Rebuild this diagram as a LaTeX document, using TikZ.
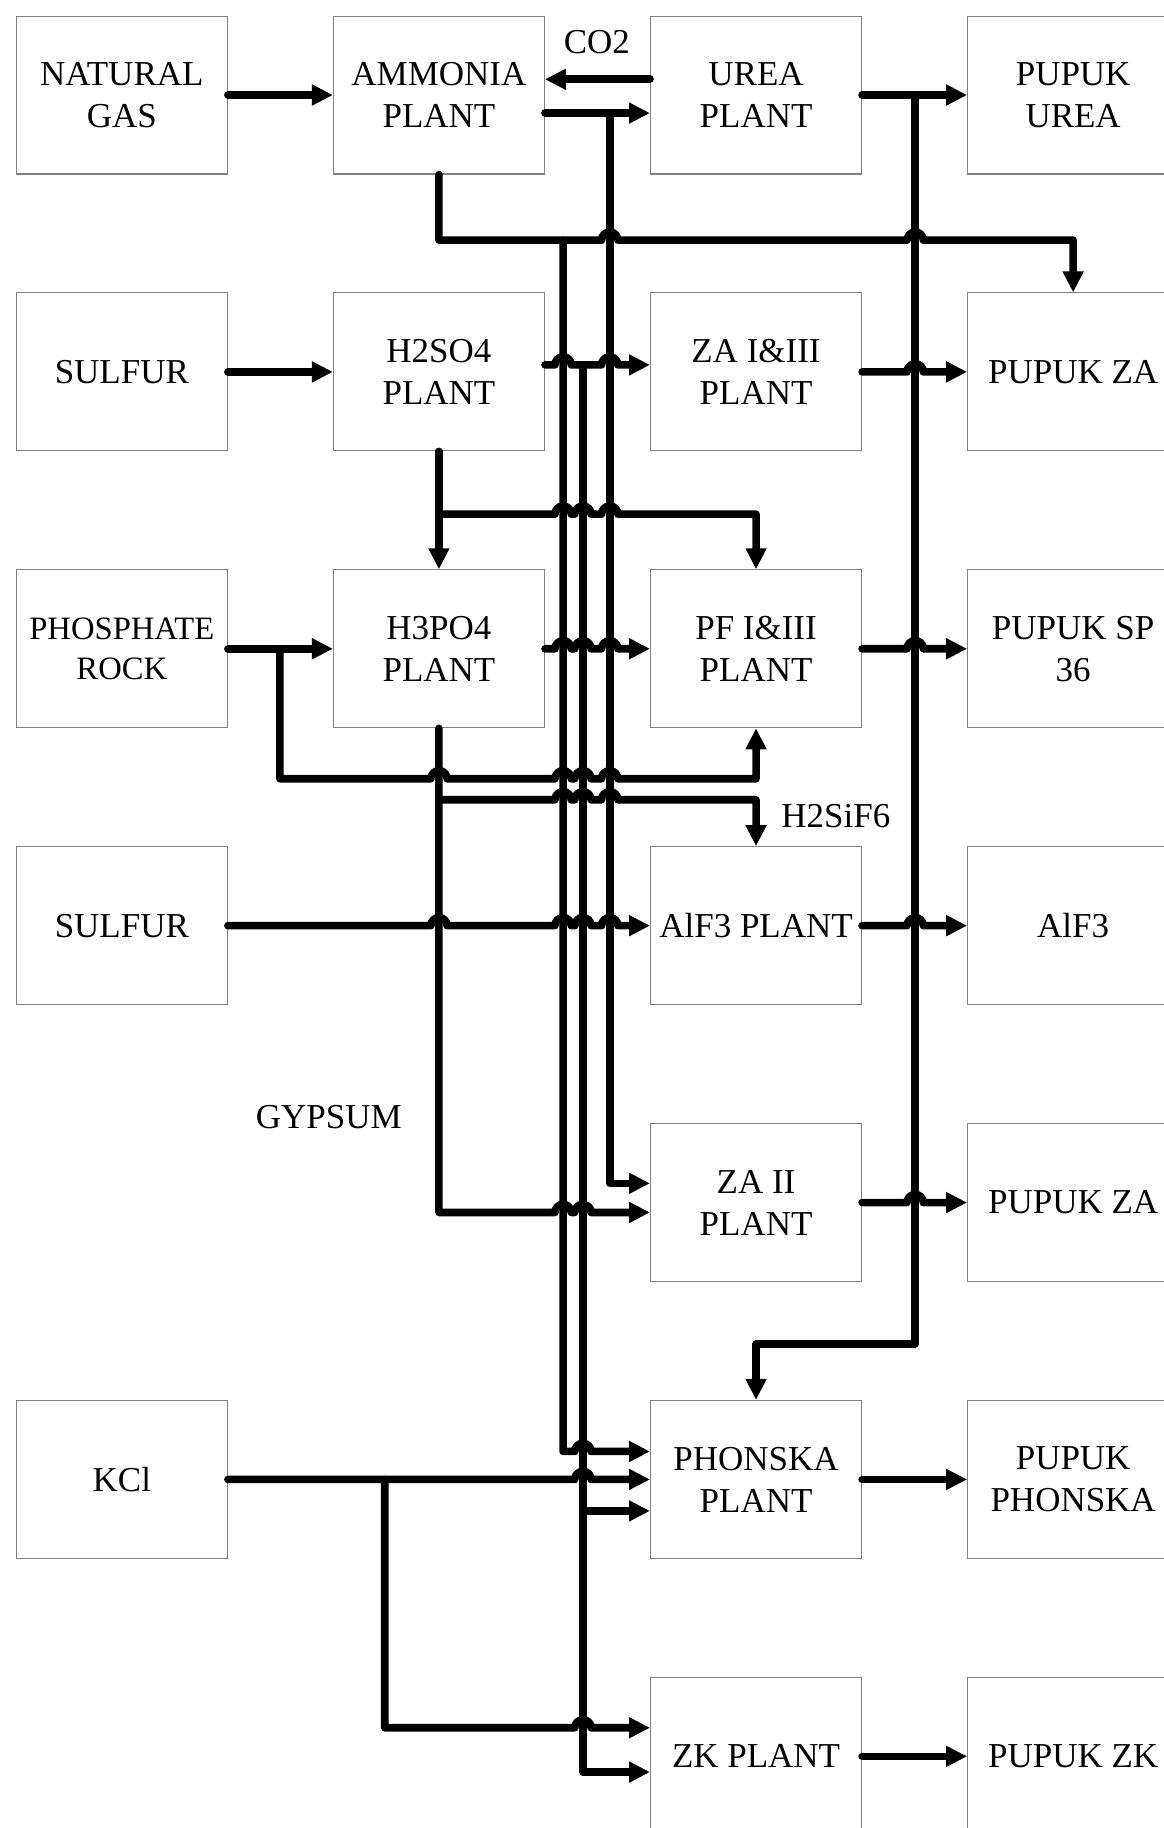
\documentclass[tikz,border=0pt]{standalone}
\usepackage{fontspec}
\setmainfont{Liberation Serif}
\usetikzlibrary{arrows.meta}
\begin{document}
\begin{tikzpicture}[x=1pt,y=-1pt,
  box/.style={draw=gray, line width=0.9pt, minimum width=181pt, minimum height=135.5pt, inner sep=0pt, align=center, font=\fontsize{30}{36}\selectfont},
  flow/.style={line width=6.5pt, line cap=round, line join=round, -{Triangle[length=18pt,width=17pt]}},
  lbl/.style={font=\fontsize{30}{36}\selectfont, inner sep=0pt}]
\useasboundingbox (0,0) rectangle (998,1568);
% boxes
\node[box] (ng)    at (104.5,81.5) {NATURAL\\GAS};
\node[box] (amm)   at (376.5,81.5) {AMMONIA\\PLANT};
\node[box] (urea)  at (648.5,81.5) {UREA\\PLANT};
\node[box] (pur)   at (920.5,81.5) {PUPUK\\UREA};
\node[box] (sul1)  at (104.5,319) {SULFUR};
\node[box] (h2so4) at (376.5,319) {H2SO4\\PLANT};
\node[box] (za13)  at (648.5,319) {ZA I\&III\\PLANT};
\node[box] (pza1)  at (920.5,319) {PUPUK ZA};
\node[box,font=\fontsize{28}{34}\selectfont] (rock) at (104.5,556.5) {PHOSPHATE\\ROCK};
\node[box] (h3po4) at (376.5,556.5) {H3PO4\\PLANT};
\node[box] (pf)    at (648.5,556.5) {PF I\&III\\PLANT};
\node[box] (psp)   at (920.5,556.5) {PUPUK SP\\36};
\node[box] (sul2)  at (104.5,794) {SULFUR};
\node[box] (alf3p) at (648.5,794) {AlF3 PLANT};
\node[box] (alf3)  at (920.5,794) {AlF3};
\node[box] (za2)   at (648.5,1031.5) {ZA II\\PLANT};
\node[box] (pza2)  at (920.5,1031.5) {PUPUK ZA};
\node[box] (kcl)   at (104.5,1269) {KCl};
\node[box] (phon)  at (648.5,1269) {PHONSKA\\PLANT};
\node[box] (pph)   at (920.5,1269) {PUPUK\\PHONSKA};
\node[box] (zk)    at (648.5,1506.5) {ZK PLANT};
\node[box] (pzk)   at (920.5,1506.5) {PUPUK ZK};
% labels
\node[lbl] (co2) at (512,36) {CO2};
\node[lbl] (h2sif6) at (717,700) {H2SiF6};
\node[lbl] (gyp) at (282,958) {GYPSUM};
% row 1
\draw[flow] (ng.east) -- (amm.west);
\draw[flow] (urea.west |- 0,68) -- (amm.east |- 0,68);
\draw[flow] (amm.east |- 0,97) -- (urea.west |- 0,97);
\draw[flow] (523,97) -- (523,1015) -- (za2.west |- 0,1015);
\draw[flow] (amm.south) -- (376.5,206) -- (516,206) arc[start angle=180,end angle=360,radius=7]
  -- (778,206) arc[start angle=180,end angle=360,radius=7] -- (pza1.north |- 0,206) -- (pza1.north);
\draw[flow] (483,206) -- (483,1245) -- (493,1245) arc[start angle=180,end angle=360,radius=7] -- (phon.west |- 0,1245);
% row 2
\draw[flow] (sul1.east) -- (h2so4.west);
\draw[flow] (h2so4.east |- 0,313) -- (476,313) arc[start angle=180,end angle=360,radius=7]
  -- (516,313) arc[start angle=180,end angle=360,radius=7] -- (za13.west |- 0,313);
\draw[flow] (500,313) -- (500,1520) -- (zk.west |- 0,1520);
\draw[flow] (500,1296) -- (phon.west |- 0,1296);
\draw[flow] (h2so4.south) -- (h3po4.north);
\draw[flow] (376.5,441) -- (476,441) arc[start angle=180,end angle=360,radius=7]
  -- (493,441) arc[start angle=180,end angle=360,radius=7]
  -- (516,441) arc[start angle=180,end angle=360,radius=7] -- (pf.north |- 0,441) -- (pf.north);
% row 3
\draw[flow] (rock.east) -- (h3po4.west);
\draw[flow] (240,556.5) -- (240,668) -- (369.5,668) arc[start angle=180,end angle=360,radius=7]
  -- (476,668) arc[start angle=180,end angle=360,radius=7]
  -- (493,668) arc[start angle=180,end angle=360,radius=7]
  -- (516,668) arc[start angle=180,end angle=360,radius=7] -- (pf.south |- 0,668) -- (pf.south);
\draw[flow] (h3po4.east) -- (476,556.5) arc[start angle=180,end angle=360,radius=7]
  -- (493,556.5) arc[start angle=180,end angle=360,radius=7]
  -- (516,556.5) arc[start angle=180,end angle=360,radius=7] -- (pf.west);
\draw[flow] (h3po4.south) -- (376.5,1040) -- (476,1040) arc[start angle=180,end angle=360,radius=7]
  -- (493,1040) arc[start angle=180,end angle=360,radius=7] -- (za2.west |- 0,1040);
\draw[flow] (376.5,686) -- (476,686) arc[start angle=180,end angle=360,radius=7]
  -- (493,686) arc[start angle=180,end angle=360,radius=7]
  -- (516,686) arc[start angle=180,end angle=360,radius=7] -- (alf3p.north |- 0,686) -- (alf3p.north);
% row 4
\draw[flow] (sul2.east) -- (369.5,794) arc[start angle=180,end angle=360,radius=7]
  -- (476,794) arc[start angle=180,end angle=360,radius=7]
  -- (493,794) arc[start angle=180,end angle=360,radius=7]
  -- (516,794) arc[start angle=180,end angle=360,radius=7] -- (alf3p.west);
% KCl
\draw[flow] (kcl.east) -- (493,1269) arc[start angle=180,end angle=360,radius=7] -- (phon.west);
\draw[flow] (330,1269) -- (330,1482) -- (493,1482) arc[start angle=180,end angle=360,radius=7] -- (zk.west |- 0,1482);
% right side
\draw[flow] (urea.east) -- (pur.west);
\draw[flow] (785,81.5) -- (785,1153) -- (phon.north |- 0,1153) -- (phon.north);
\draw[flow] (za13.east) -- (778,319) arc[start angle=180,end angle=360,radius=7] -- (pza1.west);
\draw[flow] (pf.east) -- (778,556.5) arc[start angle=180,end angle=360,radius=7] -- (psp.west);
\draw[flow] (alf3p.east) -- (778,794) arc[start angle=180,end angle=360,radius=7] -- (alf3.west);
\draw[flow] (za2.east) -- (778,1031.5) arc[start angle=180,end angle=360,radius=7] -- (pza2.west);
\draw[flow] (phon.east) -- (pph.west);
\draw[flow] (zk.east) -- (pzk.west);
\end{tikzpicture}
\end{document}
